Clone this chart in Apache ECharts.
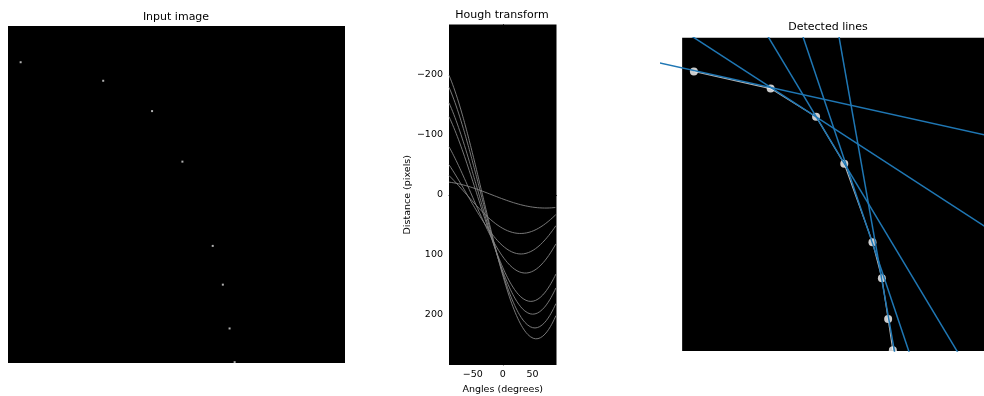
<!DOCTYPE html>
<html>
<head>
<meta charset="utf-8">
<script src="https://cdn.jsdelivr.net/npm/echarts@6/dist/echarts.min.js"></script>
<style>
  html, body { margin: 0; padding: 0; background: #fff; }
  #chart { width: 984px; height: 396px; }
</style>
</head>
<body>
<div id="chart"></div>
<script>
// white pixels of the 200x200 input image, [column, row]
const points = [
  [7, 21], [56, 32], [85, 50], [103, 80],
  [121, 130], [127, 153], [131, 179], [134, 199],
];

// hough peaks (degrees, pixels) picked for the detected lines
const peakAngles = [-77.5, -57.0, -31.0, -18.6, -10.0];
const peakDists = [-18.4, 4.3, 47.2, 73.0, 98.3];

const thetaTicks = [-50, 0, 50];
const rhoTicks = [-200, -100, 0, 100, 200];

const IMG = 200;
const FONT = "DejaVu Sans";

// accumulator angles, one per degree as in skimage's hough_line
const houghAngles = [];
for (let t = -90; t < 90; t++) houghAngles.push(t);

const rad = (d) => (d * Math.PI) / 180;
const minus = (v) => (v < 0 ? "\u2212" + -v : String(v));

// each input pixel traces rho = x cos(theta) + y sin(theta)
function houghCurve([x, y]) {
  return houghAngles.map((t) => [t, x * Math.cos(rad(t)) + y * Math.sin(rad(t))]);
}

// two far-apart points of the line x cos(a) + y sin(a) = d, clipped by the grid
function lineEnds(angle, dist) {
  const c = Math.cos(rad(angle));
  const s = Math.sin(rad(angle));
  if (Math.abs(s) >= Math.abs(c)) {
    return [-50, 250].map((x) => [x, (dist - x * c) / s]);
  }
  return [-50, 250].map((y) => [(dist - y * s) / c, y]);
}

function title(text, x, y) {
  return {
    type: "text",
    x,
    y,
    silent: true,
    style: {
      text,
      fill: "#000",
      font: `11px "${FONT}"`,
      textAlign: "center",
      textVerticalAlign: "middle",
    },
  };
}

const tickStyle = { color: "#000", width: 0.8 };
const labelStyle = { fontFamily: FONT, fontSize: 9.5, color: "#000" };

// the right panel runs past the figure edge; keep its grid inside the page
// and cut the x range to what is visible (same scale as the y axis)
const panel3 = { left: 661, top: 37.7, width: 323, height: 313.3, outerBoundsMode: "none" };
const panel3XMax = -14 + (panel3.width * IMG) / panel3.height;

const option = {
  animation: false,
  textStyle: { fontFamily: FONT },
  graphic: [
    title("Input image", 176, 17),
    title("Hough transform", 502, 15),
    title("Detected lines", 828, 27),
  ],
  grid: [
    {
      left: 8, top: 26, width: 337, height: 337,
      show: true, backgroundColor: "#000", borderWidth: 0, outerBoundsMode: "none",
    },
    {
      left: 449, top: 24.5, width: 107.5, height: 340.5,
      show: true, backgroundColor: "#000", borderWidth: 0, outerBoundsMode: "none",
    },
    panel3,
  ],
  xAxis: [
    { gridIndex: 0, type: "value", min: -0.5, max: IMG - 0.5, show: false },
    {
      gridIndex: 1,
      type: "value",
      min: -90,
      max: 90,
      name: "Angles (degrees)",
      nameLocation: "middle",
      nameGap: 11,
      nameTextStyle: labelStyle,
      axisLine: { show: true, lineStyle: tickStyle },
      axisTick: { show: true, customValues: thetaTicks, length: 3.5, lineStyle: tickStyle },
      axisLabel: { customValues: thetaTicks, formatter: minus, margin: 5, ...labelStyle },
      splitLine: { show: false },
    },
    { gridIndex: 2, type: "value", min: -14, max: panel3XMax, show: false },
  ],
  yAxis: [
    { gridIndex: 0, type: "value", min: -0.5, max: IMG - 0.5, inverse: true, show: false },
    {
      gridIndex: 1,
      type: "value",
      min: -283.5,
      max: 283.5,
      inverse: true,
      name: "Distance (pixels)",
      nameLocation: "middle",
      nameGap: 35,
      nameTextStyle: labelStyle,
      axisLine: { show: true, lineStyle: tickStyle },
      axisTick: { show: true, customValues: rhoTicks, length: 3.5, lineStyle: tickStyle },
      axisLabel: { customValues: rhoTicks, formatter: minus, margin: 6, ...labelStyle },
      splitLine: { show: false },
    },
    { gridIndex: 2, type: "value", min: -0.5, max: IMG - 0.5, inverse: true, show: false },
  ],
  series: [
    {
      type: "scatter",
      xAxisIndex: 0,
      yAxisIndex: 0,
      data: points,
      symbol: "rect",
      symbolSize: 2,
      itemStyle: { color: "#dcdcdc" },
      silent: true,
    },
    ...points.map((p) => ({
      type: "line",
      xAxisIndex: 1,
      yAxisIndex: 1,
      data: houghCurve(p),
      showSymbol: false,
      lineStyle: { color: "#848484", width: 0.9 },
      silent: true,
      z: 2,
    })),
    {
      type: "line",
      xAxisIndex: 2,
      yAxisIndex: 2,
      data: [],
      silent: true,
      z: 1,
      markArea: {
        silent: true,
        itemStyle: { color: "#000" },
        data: [[{ coord: [-0.5, -0.5] }, { coord: [panel3XMax, IMG - 0.5] }]],
      },
    },
    {
      type: "line",
      xAxisIndex: 2,
      yAxisIndex: 2,
      data: points,
      symbol: "none",
      lineStyle: { color: "#b4b4b4", width: 1.2 },
      silent: true,
      z: 2,
    },
    {
      type: "scatter",
      xAxisIndex: 2,
      yAxisIndex: 2,
      data: points,
      symbol: "circle",
      symbolSize: 8,
      itemStyle: { color: "#fff" },
      silent: true,
      z: 3,
    },
    ...peakAngles.map((a, i) => ({
      type: "line",
      xAxisIndex: 2,
      yAxisIndex: 2,
      data: lineEnds(a, peakDists[i]),
      symbol: "none",
      lineStyle: { color: "#1f77b4", width: 1.5 },
      silent: true,
      z: 4,
    })),
  ],
};

const chart = echarts.init(document.getElementById("chart"), null, { renderer: "canvas" });
chart.setOption(option);
</script>
</body>
</html>
